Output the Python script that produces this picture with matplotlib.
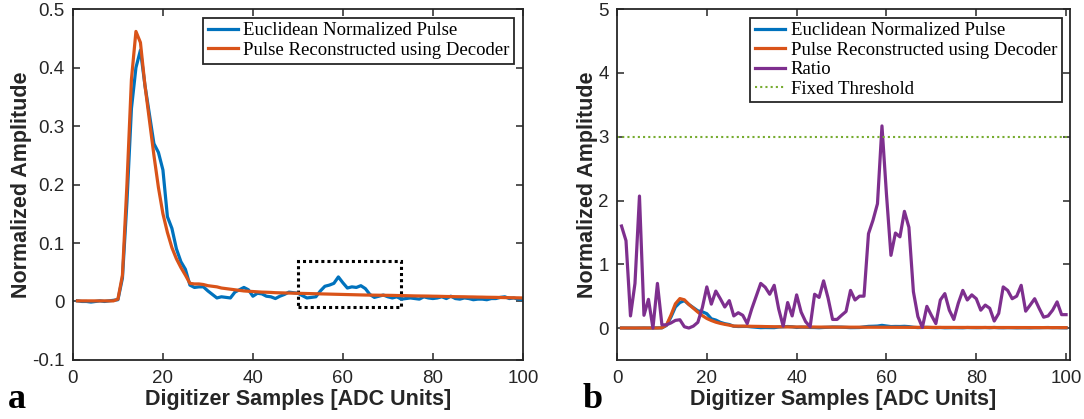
import matplotlib
matplotlib.use("Agg")
import matplotlib.pyplot as plt
from matplotlib.patches import Rectangle

samples = list(range(1, 101))

euclid_pulse = [
    0.001, 0.000, 0.000, -0.001, 0.000, 0.001, 0.000, 0.001, 0.002, 0.003,
    0.040, 0.170, 0.330, 0.400, 0.430, 0.370, 0.320, 0.270, 0.255, 0.225,
    0.145, 0.125, 0.090, 0.068, 0.055, 0.028, 0.024, 0.025, 0.025, 0.018,
    0.012, 0.006, 0.008, 0.007, 0.006, 0.016, 0.020, 0.024, 0.020, 0.009,
    0.014, 0.013, 0.009, 0.008, 0.005, 0.009, 0.012, 0.016, 0.015, 0.014,
    0.010, 0.006, 0.007, 0.008, 0.018, 0.026, 0.028, 0.031, 0.042, 0.032,
    0.023, 0.025, 0.024, 0.027, 0.022, 0.012, 0.007, 0.009, 0.011, 0.008,
    0.006, 0.008, 0.004, 0.005, 0.006, 0.005, 0.004, 0.008, 0.006, 0.005,
    0.006, 0.008, 0.005, 0.009, 0.005, 0.004, 0.006, 0.005, 0.003, 0.004,
    0.004, 0.003, 0.005, 0.005, 0.007, 0.008, 0.005, 0.006, 0.004, 0.003,
]

decoded_pulse = [
    0.001, 0.001, 0.001, 0.001, 0.001, 0.001, 0.001, 0.001, 0.001, 0.004,
    0.045, 0.200, 0.380, 0.462, 0.443, 0.370, 0.310, 0.250, 0.195, 0.150,
    0.118, 0.092, 0.073, 0.058, 0.045, 0.031, 0.030, 0.030, 0.029, 0.027,
    0.026, 0.025, 0.023, 0.022, 0.021, 0.020, 0.019, 0.018, 0.0175, 0.017,
    0.0165, 0.016, 0.0158, 0.0155, 0.015, 0.0148, 0.0146, 0.0144, 0.0142, 0.014,
    0.0138, 0.0136, 0.0134, 0.0132, 0.013, 0.0128, 0.0126, 0.0124, 0.0122, 0.012,
    0.0118, 0.0116, 0.0114, 0.0112, 0.011, 0.0109, 0.0108, 0.0107, 0.0106, 0.0105,
    0.0104, 0.0102, 0.010, 0.0099, 0.0097, 0.0095, 0.0094, 0.0093, 0.0092, 0.009,
    0.0089, 0.0087, 0.0085, 0.0084, 0.0082, 0.0081, 0.008, 0.0078, 0.0077, 0.0075,
    0.0074, 0.0072, 0.0071, 0.007, 0.0068, 0.0066, 0.0065, 0.0063, 0.0062, 0.006,
]

ratio = [
    1.60, 1.37, 0.19, 0.70, 2.07, 0.20, 0.45, 0.00, 0.70, 0.05,
    0.05, 0.08, 0.12, 0.13, 0.02, 0.00, 0.03, 0.09, 0.32, 0.645,
    0.375, 0.58, 0.46, 0.33, 0.43, 0.19, 0.24, 0.20, 0.07, 0.30,
    0.50, 0.70, 0.64, 0.53, 0.67, 0.30, 0.03, 0.40, 0.19, 0.52,
    0.25, 0.10, 0.02, 0.53, 0.48, 0.74, 0.47, 0.135, 0.135, 0.20,
    0.26, 0.59, 0.44, 0.50, 0.50, 1.48, 1.69, 1.95, 3.17, 2.10,
    1.14, 1.49, 1.43, 1.83, 1.58, 0.57, 0.18, 0.01, 0.34, 0.20,
    0.07, 0.44, 0.54, 0.28, 0.135, 0.39, 0.59, 0.44, 0.52, 0.46,
    0.28, 0.36, 0.31, 0.11, 0.23, 0.645, 0.59, 0.46, 0.50, 0.67,
    0.265, 0.36, 0.46, 0.31, 0.17, 0.19, 0.28, 0.41, 0.21, 0.21,
]

threshold = 3.0
box_x = [50, 73]
box_y = [-0.01, 0.07]

left_yticks = [-0.1, 0, 0.1, 0.2, 0.3, 0.4, 0.5]
left_yticklabels = ["-0.1", "0", "0.1", "0.2", "0.3", "0.4", "0.5"]
right_yticks = [0, 1, 2, 3, 4, 5]
xticks = [0, 20, 40, 60, 80, 100]

BLUE = "#0072BD"
ORANGE = "#D95319"
PURPLE = "#7E2F8E"
GREEN = "#77AC30"
AXC = "#262626"

plt.rcParams["font.family"] = ["Liberation Sans", "DejaVu Sans"]

fig = plt.figure(figsize=(10.84, 4.19), dpi=100)
ax1 = fig.add_axes([0.0673, 0.141, 0.415, 0.837])
ax2 = fig.add_axes([0.5692, 0.141, 0.418, 0.837])

legend_font = {"family": ["Liberation Serif", "DejaVu Serif"], "size": 13.5}


def style_axes(ax):
    for sp in ax.spines.values():
        sp.set_linewidth(1.3)
        sp.set_color(AXC)
    ax.tick_params(direction="in", top=True, right=True, length=5, width=1.1,
                   color=AXC, labelsize=13.5, labelcolor=AXC)
    ax.tick_params(axis="x", pad=7.5)
    ax.tick_params(axis="y", pad=6)
    ax.set_xticks(xticks)
    ax.set_xlabel("Digitizer Samples [ADC Units]", fontsize=15.5,
                  fontweight="bold", color=AXC, labelpad=1)
    ax.set_ylabel("Normalized Amplitude", fontsize=15.5, fontweight="bold",
                  color=AXC, labelpad=0)


def add_legend(ax):
    leg = ax.legend(loc="upper right", prop=legend_font, fancybox=False, framealpha=1,
                    edgecolor=AXC, handlelength=1.6, borderpad=0.25, labelspacing=0.12,
                    handletextpad=0.3, borderaxespad=0.45)
    leg.get_frame().set_linewidth(1.3)
    return leg


# Panel a
ax1.plot(samples, euclid_pulse, color=BLUE, lw=2.3, label="Euclidean Normalized Pulse")
ax1.plot(samples, decoded_pulse, color=ORANGE, lw=2.3, label="Pulse Reconstructed using Decoder")
ax1.add_patch(Rectangle((box_x[0], box_y[0]), box_x[1] - box_x[0], box_y[1] - box_y[0],
                        fill=False, ec="black", lw=2.2, ls=(0, (1, 1))))
style_axes(ax1)
ax1.set_xlim(0, 100)
ax1.set_ylim(-0.1, 0.5)
ax1.set_yticks(left_yticks)
ax1.set_yticklabels(left_yticklabels)
add_legend(ax1)

# Panel b
ax2.plot(samples, euclid_pulse, color=BLUE, lw=2.3, label="Euclidean Normalized Pulse")
ax2.plot(samples, decoded_pulse, color=ORANGE, lw=2.3, label="Pulse Reconstructed using Decoder")
ax2.plot(samples, ratio, color=PURPLE, lw=2.3, label="Ratio")
ax2.axhline(threshold, color=GREEN, lw=1.5, ls=(0, (1, 1.5)), label="Fixed Threshold")
style_axes(ax2)
ax2.set_xlim(0, 100.9)
ax2.set_ylim(-0.5, 5)
ax2.set_yticks(right_yticks)
add_legend(ax2)

fig.text(0.007, 0.027, "a", fontsize=26, fontweight="bold",
         family=["Liberation Serif", "DejaVu Serif"], color="black")
fig.text(0.537, 0.027, "b", fontsize=26, fontweight="bold",
         family=["Liberation Serif", "DejaVu Serif"], color="black")

fig.savefig("out.png", dpi=100)
